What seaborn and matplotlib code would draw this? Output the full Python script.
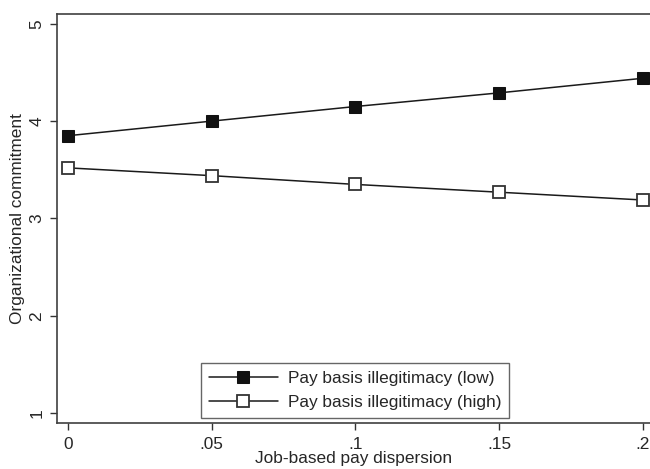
import pandas as pd
import matplotlib
matplotlib.use("Agg")
import matplotlib.pyplot as plt
import seaborn as sns

# values
dispersion = [0, 0.05, 0.1, 0.15, 0.2]
commit_low = [3.85, 4.00, 4.15, 4.29, 4.44]
commit_high = [3.52, 3.44, 3.35, 3.27, 3.19]
x_ticks = [0, 0.05, 0.1, 0.15, 0.2]
x_tick_labels = ["0", ".05", ".1", ".15", ".2"]
y_ticks = [1, 2, 3, 4, 5]
label_low = "Pay basis illegitimacy (low)"
label_high = "Pay basis illegitimacy (high)"

FS = 12.4

sns.set_style("white")
plt.rcParams["font.family"] = ["Liberation Sans", "DejaVu Sans"]

fig = plt.figure(figsize=(6.5, 4.69), dpi=100)
ax = fig.add_axes([57 / 650, 1 - 423 / 469, 593 / 650, 409 / 469])

df_low = pd.DataFrame({"x": dispersion, "y": commit_low})
df_high = pd.DataFrame({"x": dispersion, "y": commit_high})

sns.lineplot(data=df_low, x="x", y="y", ax=ax, color="#1a1a1a", lw=1.1,
             marker="s", markersize=8.4, markerfacecolor="#111111",
             markeredgecolor="#111111", label=label_low)
sns.lineplot(data=df_high, x="x", y="y", ax=ax, color="#1a1a1a", lw=1.1,
             marker="s", markersize=8.0, markerfacecolor="white",
             markeredgecolor="#333333", markeredgewidth=1.3, label=label_high)

ax.set_xlim(-0.0038, 0.2025)
ax.set_ylim(0.9, 5.1)
ax.set_xticks(x_ticks)
ax.set_xticklabels(x_tick_labels)
ax.set_yticks(y_ticks)
ax.set_yticklabels([str(v) for v in y_ticks], rotation=90, va="center")
ax.tick_params(axis="both", direction="out", length=5, width=1,
               color="#333333", labelsize=FS, left=True, bottom=True)
ax.tick_params(axis="x", pad=5)
ax.tick_params(axis="y", pad=4)

ax.set_xlabel("Job-based pay dispersion", fontsize=FS, labelpad=-1)
ax.set_ylabel("Organizational commitment", fontsize=FS, labelpad=3)

for side in ["left", "top", "bottom"]:
    ax.spines[side].set_visible(True)
    ax.spines[side].set_color("#404040")
    ax.spines[side].set_linewidth(1.2)
ax.spines["right"].set_visible(False)

leg = ax.legend(loc="lower center", bbox_to_anchor=(0.503, 0.012),
                fontsize=FS, frameon=True, fancybox=False,
                handlelength=4.0, handletextpad=0.6, borderaxespad=0,
                borderpad=0.45, labelspacing=0.55, edgecolor="#404040")
leg.get_frame().set_linewidth(1.0)

fig.savefig("out.png", dpi=100)
